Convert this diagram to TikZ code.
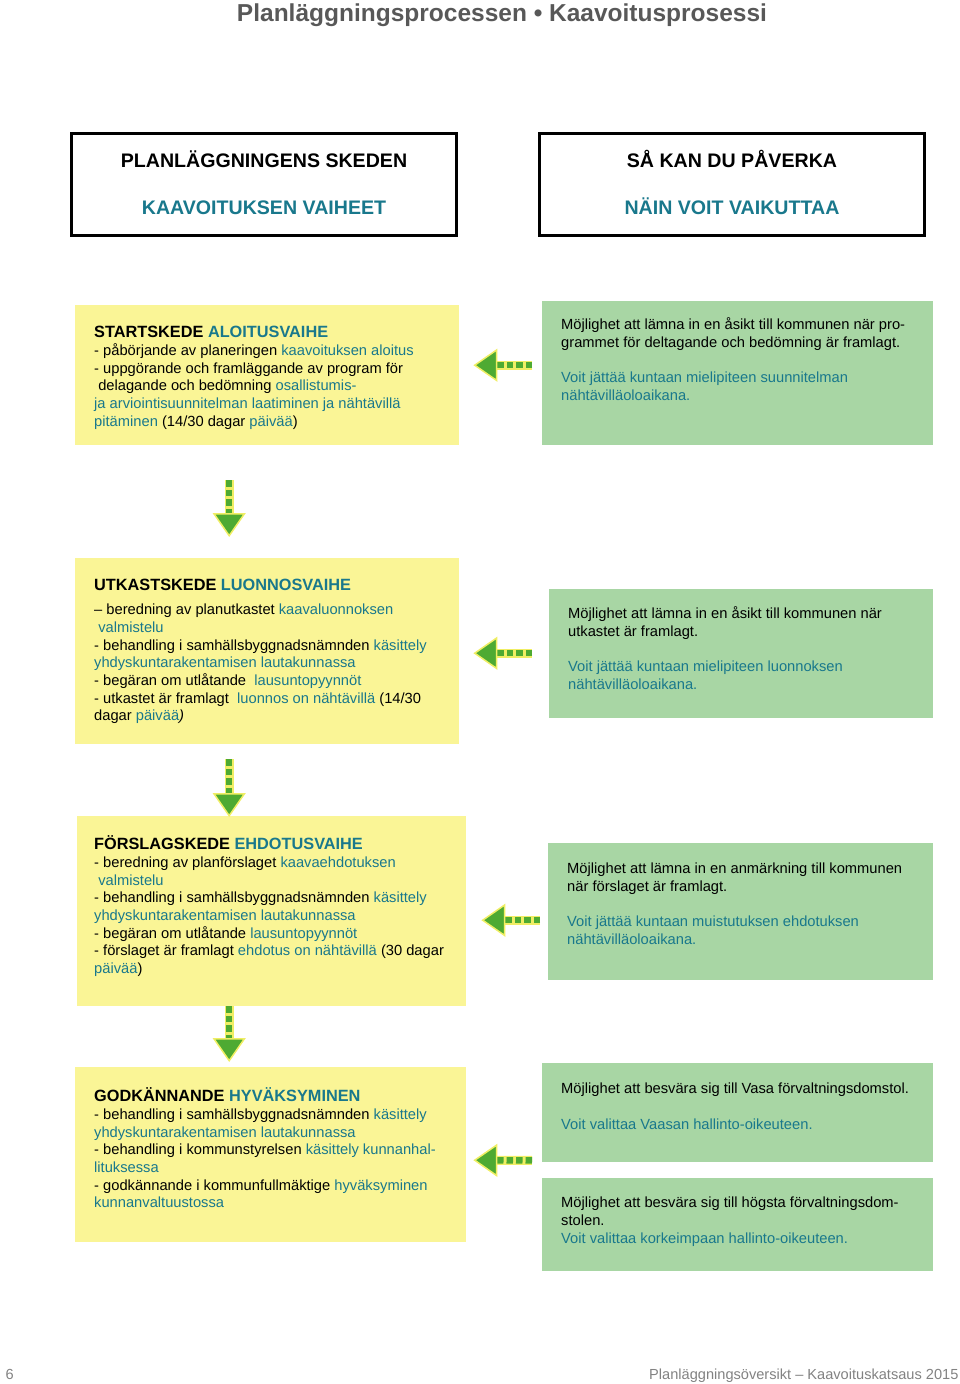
\documentclass[tikz,border=0pt]{standalone}
\usepackage{fontspec}
\setmainfont{Liberation Sans}
\usetikzlibrary{positioning,arrows.meta}

\definecolor{finteal}{RGB}{25,120,140}
\definecolor{boxyellow}{RGB}{250,245,150}
\definecolor{boxgreen}{RGB}{168,214,164}
\definecolor{arrgreen}{RGB}{78,170,50}
\definecolor{arryellow}{RGB}{240,238,100}
\definecolor{titlegray}{RGB}{88,88,88}
\definecolor{footgray}{RGB}{130,130,130}

\newcommand{\fin}[1]{\textcolor{finteal}{#1}}
\newcommand{\firstln}{\rule{0pt}{14pt}}
\newcommand{\headln}{\rule{0pt}{15pt}}
\newcommand{\stagefont}{\fontsize{16.3}{17.7}\selectfont\bfseries}

\tikzset{
  ybox/.style={rectangle, fill=boxyellow, anchor=north west, inner sep=0pt},
  gbox/.style={rectangle, fill=boxgreen, anchor=north west, inner sep=0pt},
  headbox/.style={rectangle, draw=black, line width=3pt, anchor=north west, inner sep=0pt,
    minimum width=385pt, minimum height=102pt},
  txt/.style={anchor=north west, inner sep=0pt, align=left, font=\fontsize{14.7}{17.7}\selectfont},
  headtxt/.style={anchor=base, inner sep=0pt, font=\fontsize{19.6}{21}\selectfont\bfseries},
  flowarrow/.style={draw=arrgreen, line width=6.5pt, dash pattern=on 6.5pt off 3pt,
    preaction={draw=arryellow, line width=9pt, solid, -, shorten >=20pt},
    -{Triangle[length=24pt, width=33pt, line width=1.5pt, fill=arrgreen, color=arryellow]}}
}

\begin{document}
\begin{tikzpicture}[x=1pt,y=-1pt]
	\useasboundingbox (0,0) rectangle (960,1384);

	\node[font=\fontsize{24.5}{26}\selectfont\bfseries, text=titlegray, anchor=base] (title) at (502,21) {Planläggningsprocessen • Kaavoitusprosessi};

	% header boxes
	\node[headbox] (hl) at (70,132) {};
	\node[headtxt] (hlsv) at ([yshift=-35.5pt]hl.north) {PLANLÄGGNINGENS SKEDEN};
	\node[headtxt, text=finteal] (hlfi) at ([yshift=-82.5pt]hl.north) {KAAVOITUKSEN VAIHEET};
	\node[headbox] (hr) at (538,132) {};
	\node[headtxt] (hrsv) at ([yshift=-35.5pt]hr.north) {SÅ KAN DU PÅVERKA};
	\node[headtxt, text=finteal] (hrfi) at ([yshift=-82.5pt]hr.north) {NÄIN VOIT VAIKUTTAA};

	% stages
	\node[ybox, minimum width=384pt, minimum height=140pt] (y1) at (75,305) {};
	\node[txt, shift={(19,17.5)}] (y1t) at (y1.north west) {{\stagefont\headln STARTSKEDE \fin{ALOITUSVAIHE}}\\
		- påbörjande av planeringen \fin{kaavoituksen aloitus}\\
		- uppgörande och framläggande av program för\\
		\ delagande och bedömning \fin{osallistumis-}\\
		\fin{ja arviointisuunnitelman laatiminen ja nähtävillä}\\
		\fin{pitäminen} (14/30 dagar \fin{päivää})};

	\node[ybox, minimum width=384pt, minimum height=186pt] (y2) at (75,558) {};
	\node[txt, shift={(19,17.5)}] (y2t) at (y2.north west) {{\stagefont\headln UTKASTSKEDE \fin{LUONNOSVAIHE}}\\[6.3pt]
		– beredning av planutkastet \fin{kaavaluonnoksen}\\
		\ \fin{valmistelu}\\
		- behandling i samhällsbyggnadsnämnden \fin{käsittely}\\
		\fin{yhdyskuntarakentamisen lautakunnassa}\\
		- begäran om utlåtande \ \fin{lausuntopyynnöt}\\
		- utkastet är framlagt \ \fin{luonnos on nähtävillä} (14/30\\
		dagar \fin{päivää}\textit{)}};

	\node[ybox, minimum width=389pt, minimum height=190pt] (y3) at (77,816) {};
	\node[txt, shift={(17,18.5)}] (y3t) at (y3.north west) {{\stagefont\headln FÖRSLAGSKEDE \fin{EHDOTUSVAIHE}}\\
		- beredning av planförslaget \fin{kaavaehdotuksen}\\
		\ \fin{valmistelu}\\
		- behandling i samhällsbyggnadsnämnden \fin{käsittely}\\
		\fin{yhdyskuntarakentamisen lautakunnassa}\\
		- begäran om utlåtande \fin{lausuntopyynnöt}\\
		- förslaget är framlagt \fin{ehdotus on nähtävillä} (30 dagar\\
		\fin{päivää})};

	\node[ybox, minimum width=391pt, minimum height=175pt] (y4) at (75,1067) {};
	\node[txt, shift={(19,19.5)}] (y4t) at (y4.north west) {{\stagefont\headln GODKÄNNANDE \fin{HYVÄKSYMINEN}}\\
		- behandling i samhällsbyggnadsnämnden \fin{käsittely}\\
		\fin{yhdyskuntarakentamisen lautakunnassa}\\
		- behandling i kommunstyrelsen \fin{käsittely kunnanhal-}\\
		\fin{lituksessa}\\
		- godkännande i kommunfullmäktige \fin{hyväksyminen}\\
		\fin{kunnanvaltuustossa}};

	% ways to take part
	\node[gbox, minimum width=391pt, minimum height=144pt] (g1) at (542,301) {};
	\node[txt, shift={(19,14.5)}] (g1t) at (g1.north west) {\firstln Möjlighet att lämna in en åsikt till kommunen när pro-\\
		grammet för deltagande och bedömning är framlagt.\\[17.7pt]
		\fin{Voit jättää kuntaan mielipiteen suunnitelman}\\
		\fin{nähtävilläoloaikana.}};

	\node[gbox, minimum width=384pt, minimum height=129pt] (g2) at (549,589) {};
	\node[txt, shift={(19,15.5)}] (g2t) at (g2.north west) {\firstln Möjlighet att lämna in en åsikt till kommunen när\\
		utkastet är framlagt.\\[17.7pt]
		\fin{Voit jättää kuntaan mielipiteen luonnoksen}\\
		\fin{nähtävilläoloaikana.}};

	\node[gbox, minimum width=385pt, minimum height=137pt] (g3) at (548,843) {};
	\node[txt, shift={(19,16.5)}] (g3t) at (g3.north west) {\firstln Möjlighet att lämna in en anmärkning till kommunen\\
		när förslaget är framlagt.\\[17.7pt]
		\fin{Voit jättää kuntaan muistutuksen ehdotuksen}\\
		\fin{nähtävilläoloaikana.}};

	\node[gbox, minimum width=391pt, minimum height=99pt] (g4a) at (542,1063) {};
	\node[txt, shift={(19,16.5)}] (g4at) at (g4a.north west) {\firstln Möjlighet att besvära sig till Vasa förvaltningsdomstol.\\[17.7pt]
		\fin{Voit valittaa Vaasan hallinto-oikeuteen.}};

	\node[gbox, minimum width=391pt, minimum height=93pt] (g4b) at (542,1178) {};
	\node[txt, shift={(19,15.5)}] (g4bt) at (g4b.north west) {\firstln Möjlighet att besvära sig till högsta förvaltningsdom-\\
		stolen.\\
		\fin{Voit valittaa korkeimpaan hallinto-oikeuteen.}};

	% arrows
	\draw[flowarrow] ([xshift=-38pt,yshift=-35pt]y1.south) -- ([xshift=-38pt,yshift=21pt]y2.north);
	\draw[flowarrow] ([xshift=-38pt,yshift=-15pt]y2.south) -- ([xshift=-42.5pt,yshift=-1pt]y3.north);
	\draw[flowarrow] ([xshift=-42.5pt]y3.south) -- ([xshift=-41.5pt,yshift=5pt]y4.north);

	\draw[flowarrow] ([xshift=-10pt,yshift=8pt]g1.west) -- ([xshift=14pt,yshift=10pt]y1.east);
	\draw[flowarrow] ([xshift=-17pt,yshift=0.5pt]g2.west) -- ([xshift=14pt,yshift=-2pt]y2.east);
	\draw[flowarrow] ([xshift=-8pt,yshift=-8.5pt]g3.west) -- ([xshift=15pt,yshift=-9pt]y3.east);
	\draw[flowarrow] ([xshift=-10pt,yshift=2pt]g4a.south west) -- ([xshift=7pt,yshift=-5.5pt]y4.east);

	% footer
	\node[font=\fontsize{14.6}{17}\selectfont, text=footgray, anchor=base west] (pagenr) at (2,1379) {6};
	\node[font=\fontsize{14.6}{17}\selectfont, text=footgray, anchor=base east] (foot) at (962,1379) {Planläggningsöversikt – Kaavoituskatsaus 2015};
\end{tikzpicture}
\end{document}
